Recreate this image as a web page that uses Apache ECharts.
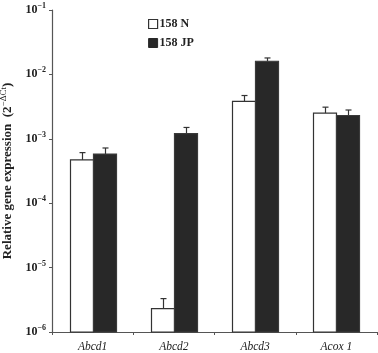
<!DOCTYPE html>
<html>
<head>
<meta charset="utf-8">
<script src="https://cdn.jsdelivr.net/npm/echarts@6/dist/echarts.min.js"></script>
<style>
  html, body { margin: 0; padding: 0; background: #fff; }
  #chart { width: 378px; height: 353px; }
</style>
</head>
<body>
<div id="chart"></div>
<script>
const genes = ['Abcd1', 'Abcd2', 'Abcd3', 'Acox 1'];
const seriesNames = ['158 N', '158 JP'];
const valuesN = [4.7e-4, 2.3e-6, 3.8e-3, 2.5e-3];
const errTopN = [6.1e-4, 3.3e-6, 4.7e-3, 3.1e-3];
const valuesJP = [5.8e-4, 1.2e-3, 1.6e-2, 2.3e-3];
const errTopJP = [7.2e-4, 1.5e-3, 1.8e-2, 2.8e-3];

const font = '"Liberation Serif", "DejaVu Serif", serif';
const barW = 23;
const yMin = 1e-6;

// log axis bars: drawn by hand from the axis floor, with the error whisker on top
function barSeries(name, vals, tops, side, fill, stroke) {
    return {
        name: name,
        type: 'custom',
        itemStyle: { color: fill, borderColor: stroke, borderWidth: 1.2 },
        data: vals.map((v, i) => [i, v, tops[i]]),
        renderItem: function (params, api) {
            const top = api.coord([api.value(0), api.value(1)]);
            const bottom = api.coord([api.value(0), yMin]);
            const err = api.coord([api.value(0), api.value(2)]);
            const x0 = Math.round(top[0] + (side < 0 ? -barW : 0)) + 0.5;
            const xc = Math.round(x0 + barW / 2) + 0.5;
            const line = { stroke: '#333', lineWidth: 1.2 };
            return {
                type: 'group',
                children: [
                    { type: 'line', shape: { x1: xc, y1: top[1], x2: xc, y2: err[1] }, style: line },
                    { type: 'line', shape: { x1: xc - 3, y1: err[1], x2: xc + 3, y2: err[1] }, style: line },
                    {
                        type: 'rect',
                        shape: { x: x0, y: top[1], width: barW, height: bottom[1] - top[1] },
                        style: { fill: fill, stroke: stroke, lineWidth: 1.2 }
                    }
                ]
            };
        }
    };
}

const chart = echarts.init(document.getElementById('chart'));
chart.setOption({
    animation: false,
    textStyle: { fontFamily: font },
    grid: { left: 52, right: 1, top: 10, bottom: 21, outerBoundsMode: 'none', containLabel: false },
    legend: {
        left: 143,
        top: 13,
        orient: 'vertical',
        icon: 'rect',
        itemWidth: 9,
        itemHeight: 9,
        itemGap: 7,
        data: [
            { name: seriesNames[0], itemStyle: { color: '#fff', borderColor: '#333', borderWidth: 1.2 } },
            { name: seriesNames[1], itemStyle: { color: '#282828', borderColor: '#282828', borderWidth: 1 } }
        ],
        textStyle: { fontFamily: font, fontWeight: 'bold', fontSize: 12, color: '#222', padding: [0, 0, 0, -3] }
    },
    xAxis: {
        type: 'category',
        data: genes,
        axisLine: { lineStyle: { color: '#555', width: 1.2 } },
        axisTick: { show: true, length: 3, lineStyle: { color: '#555' } },
        axisLabel: { fontFamily: font, fontStyle: 'italic', fontSize: 11.5, color: '#222', margin: 9 }
    },
    yAxis: {
        type: 'log',
        min: yMin,
        max: 0.1,
        logBase: 10,
        splitLine: { show: false },
        axisLine: { show: true, lineStyle: { color: '#555', width: 1.2 } },
        axisTick: { show: true, length: 3, lineStyle: { color: '#555' } },
        axisLabel: {
            margin: 6,
            formatter: function (v) {
                const e = Math.round(Math.log10(v));
                return '{b|10}{s|' + (e < 0 ? '\u2212' + (-e) : e) + '}';
            },
            rich: {
                b: { fontFamily: font, fontWeight: 'bold', fontSize: 12, color: '#222' },
                s: { fontFamily: font, fontWeight: 'bold', fontSize: 8, color: '#222', verticalAlign: 'bottom', padding: [0, 0, 8, 0] }
            }
        },
        name: '{b|Relative gene expression  (2}{s|\u2212\u0394Ct}{b|)}',
        nameLocation: 'middle',
        nameGap: 29,
        nameRotate: 90,
        nameTextStyle: {
            rich: {
                b: { fontFamily: font, fontWeight: 'bold', fontSize: 13, color: '#222' },
                s: { fontFamily: font, fontSize: 9, color: '#222', verticalAlign: 'bottom', padding: [0, 0, 9, 0] }
            }
        }
    },
    series: [
        barSeries(seriesNames[0], valuesN, errTopN, -1, '#fff', '#333'),
        barSeries(seriesNames[1], valuesJP, errTopJP, 1, '#282828', '#3a3a3a')
    ]
});
</script>
</body>
</html>
